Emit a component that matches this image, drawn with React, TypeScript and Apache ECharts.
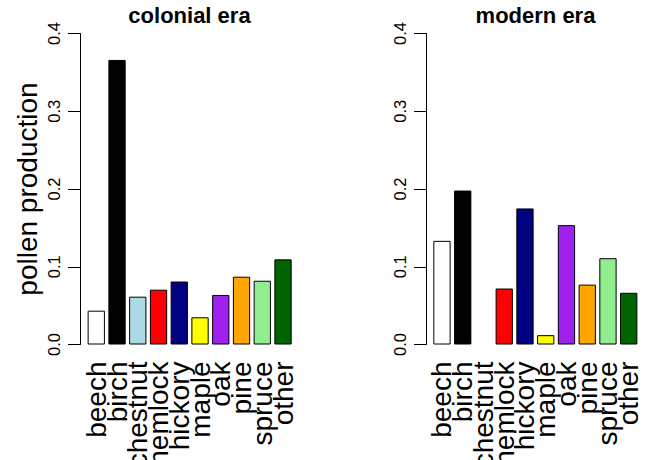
import React, { useEffect, useRef } from "react";
import * as echarts from "echarts";

const categories = ["beech", "birch", "chestnut", "hemlock", "hickory", "maple", "oak", "pine", "spruce", "other"];
const colonialValues = [0.0435, 0.366, 0.0615, 0.0705, 0.081, 0.035, 0.0637, 0.0872, 0.082, 0.1095];
const modernValues = [0.1333, 0.198, 0, 0.072, 0.175, 0.012, 0.1535, 0.077, 0.111, 0.0665];
const barColors = ["#FFFFFF", "#000000", "#ADD8E6", "#FF0000", "#000080", "#FFFF00", "#A020F0", "#FFA500", "#90EE90", "#006400"];
const titles = ["colonial era", "modern era"];
const yTitle = "pollen production";

const FONT = "Liberation Sans, Arial, Helvetica, sans-serif";

export default function App() {
  const ref = useRef<HTMLDivElement>(null);
  useEffect(() => {
    document.body.style.margin = "0";
    if (!ref.current) return;
    const chart = echarts.init(ref.current, null, { renderer: "svg" });
    const panels = [
      { left: 85.9, axisX: 80, values: colonialValues, center: 189.5 },
      { left: 431.6, axisX: 426, values: modernValues, center: 535.5 },
    ];
    const gridW = 207.5;
    const top = 33.5;
    const height = 311;
    const option: any = {
      animation: false,
      backgroundColor: "#ffffff",
      title: panels.map((p, i) => ({
        text: titles[i],
        left: p.center,
        textAlign: "center",
        top: 4,
        padding: 0,
        textStyle: { fontFamily: FONT, fontSize: 22, fontWeight: "bold", color: "#000" },
      })),
      grid: panels.map((p) => ({
        left: p.left,
        top,
        width: gridW,
        height,
        containLabel: false,
        outerBoundsMode: "none",
      })),
      xAxis: panels.map((p, i) => ({
        type: "category",
        gridIndex: i,
        data: categories,
        axisLine: { show: false },
        axisTick: { show: false },
        splitLine: { show: false },
        axisLabel: {
          interval: 0,
          rotate: 90,
          margin: 17,
          fontSize: 28,
          fontFamily: FONT,
          color: "#000",
        },
      })),
      yAxis: panels.map((p, i) => ({
        type: "value",
        gridIndex: i,
        min: 0,
        max: 0.4,
        interval: 0.1,
        offset: p.left - p.axisX,
        splitLine: { show: false },
        axisLine: { show: true, lineStyle: { color: "#000", width: 1 } },
        axisTick: { show: true, length: 12, lineStyle: { color: "#000", width: 1 } },
        axisLabel: {
          rotate: 90,
          margin: 18,
          fontSize: 16.5,
          fontFamily: FONT,
          color: "#000",
          formatter: (v: number) => v.toFixed(1),
        },
      })),
      series: panels.map((p, i) => ({
        type: "bar",
        xAxisIndex: i,
        yAxisIndex: i,
        barWidth: "83.33%",
        data: p.values.map((v, j) => ({
          value: v,
          itemStyle: {
            color: barColors[j],
            borderColor: "#000",
            borderWidth: v === 0 ? 0 : 1,
          },
        })),
      })),
      graphic: [
        {
          type: "text",
          x: 27,
          y: 189,
          rotation: Math.PI / 2,
          style: {
            text: yTitle,
            fontFamily: FONT,
            fontSize: 28,
            fill: "#000",
            align: "center",
            verticalAlign: "middle",
          },
        },
      ],
    };
    chart.setOption(option);
    return () => chart.dispose();
  }, []);
  return <div ref={ref} style={{ position: "fixed", left: 0, top: 0, width: 645, height: 460 }} />;
}
